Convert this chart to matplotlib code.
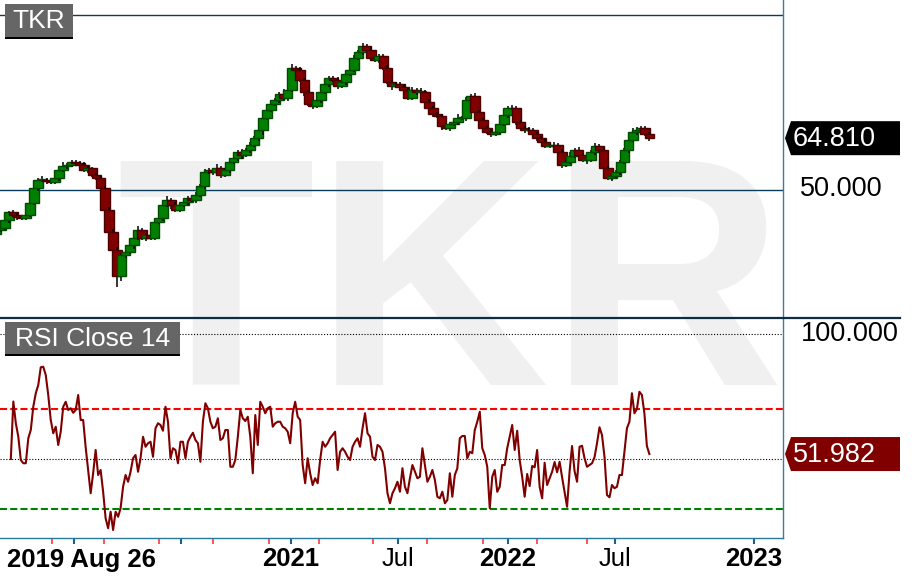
import numpy as np
import pandas as pd
import matplotlib
matplotlib.use("Agg")
import matplotlib.pyplot as plt
from matplotlib.patches import Polygon, Rectangle
from matplotlib.lines import Line2D
import matplotlib.transforms as mtrans

plt.rcParams['font.family'] = ['Liberation Sans', 'DejaVu Sans']

# ---------------- data ----------------
start_date = '2019-08-26'
ticker = 'TKR'
rsi_title = 'RSI Close 14'

# weekly closes
close = [38.5, 39.1, 41.4, 43.7, 42.9, 42.3, 42.0, 42.9, 46.3, 50.6,
         52.9, 52.9, 52.6, 52.3, 53.4, 55.7, 56.9, 57.1, 58.0, 57.7,
         57.1, 55.7, 56.3, 54.3, 53.4, 50.6, 44.3, 38.0, 33.0, 25.5,
         31.4, 32.3, 34.3, 36.3, 38.6, 36.3, 37.1, 36.3, 40.9, 42.0,
         45.7, 47.1, 45.7, 44.3, 45.7, 46.6, 47.7, 47.1, 48.6, 51.1,
         55.1, 55.7, 55.1, 56.3, 54.3, 55.7, 58.0, 59.1, 60.9, 60.0,
         61.4, 62.9, 64.8, 67.1, 70.6, 72.9, 74.6, 75.7, 77.4, 76.3,
         78.6, 84.9, 84.3, 81.4, 78.0, 74.6, 74.0, 75.7, 78.0, 80.3,
         82.0, 81.4, 79.7, 80.9, 83.1, 84.3, 87.7, 89.4, 91.1, 90.0,
         87.7, 87.1, 88.3, 84.9, 80.9, 79.7, 80.3, 79.4, 78.6, 76.3,
         78.6, 78.0, 78.0, 75.1, 73.4, 71.7, 71.1, 68.3, 67.7, 68.9,
         69.4, 70.6, 70.6, 75.7, 76.9, 72.3, 70.0, 67.7, 66.6, 66.0,
         66.6, 68.9, 71.4, 73.4, 73.4, 69.4, 67.7, 67.1, 67.1, 66.0,
         64.9, 63.8, 62.6, 62.6, 62.9, 60.9, 57.1, 58.0, 59.7, 61.4,
         60.0, 58.6, 58.6, 60.9, 62.6, 61.4, 56.3, 53.4, 54.0, 55.1,
         58.0, 61.4, 64.3, 66.6, 67.1, 67.7, 66.0, 64.81]
first_open = 37.5

up_wick = [0.6, 0.5, 0.8, 0.4, 0.7, 0.5, 0.6, 0.9, 0.5, 0.7,
           0.6, 1.0, 0.5, 0.4, 0.8, 0.6, 1.2, 0.5, 0.7, 0.6,
           0.5, 0.8, 0.6, 0.4, 0.7, 0.5, 0.6, 0.8, 0.9, 0.7,
           0.6, 1.1, 0.8, 0.5, 1.0, 0.6, 0.7, 0.5, 0.9, 0.6,
           0.7, 1.2, 0.5, 0.8, 0.6, 0.4, 0.7, 0.6, 0.9, 0.5,
           0.8, 0.6, 0.5, 1.0, 0.7, 0.5, 0.6, 0.8, 0.5, 0.7,
           0.6, 0.9, 0.5, 0.7, 0.6, 0.8, 0.5, 0.7, 0.6, 1.4,
           0.5, 1.0, 0.6, 0.8, 0.5, 0.7, 0.6, 0.9, 0.5, 1.6,
           0.7, 0.6, 0.8, 0.5, 0.7, 0.6, 0.9, 0.5, 1.0, 0.6,
           0.8, 0.5, 0.7, 0.6, 0.9, 0.5, 0.7, 0.6, 0.8, 0.5,
           0.7, 0.6, 1.1, 0.5, 0.8, 0.6, 0.7, 0.5, 0.9, 0.6,
           0.7, 1.0, 0.5, 0.8, 0.6, 0.9, 0.5, 0.7, 0.6, 0.8,
           0.5, 0.7, 1.2, 0.6, 0.8, 0.5, 0.7, 0.6, 0.9, 0.5,
           0.7, 0.6, 0.8, 0.5, 0.7, 0.6, 0.9, 0.5, 1.1, 0.6,
           0.8, 0.5, 0.7, 0.6, 0.9, 0.5, 0.7, 0.6, 0.8, 0.5,
           0.7, 0.6, 0.8, 1.2, 0.9, 0.6, 0.7, 0.5]
dn_wick = [0.7, 0.5, 0.6, 0.9, 0.5, 0.8, 0.6, 0.5, 0.7, 0.6,
           0.8, 0.5, 0.9, 0.6, 0.5, 0.7, 0.6, 0.8, 0.5, 0.7,
           0.6, 0.5, 0.9, 0.7, 0.6, 0.8, 1.0, 0.9, 1.2, 3.2,
           1.5, 0.8, 0.6, 1.1, 0.7, 0.5, 0.9, 0.6, 0.7, 0.5,
           0.8, 0.6, 1.0, 0.5, 0.7, 0.6, 0.8, 0.5, 0.9, 0.6,
           0.7, 0.5, 0.8, 0.6, 0.9, 0.5, 0.7, 0.6, 0.8, 1.2,
           0.5, 0.7, 0.6, 0.9, 1.3, 0.5, 0.7, 0.6, 0.8, 0.5,
           0.9, 0.6, 0.7, 0.5, 1.0, 0.6, 0.8, 0.5, 0.7, 0.6,
           0.9, 0.5, 0.7, 0.6, 0.8, 0.5, 0.7, 0.6, 0.9, 0.5,
           0.7, 0.6, 0.8, 0.5, 0.7, 1.0, 0.6, 0.8, 0.5, 0.7,
           0.6, 0.9, 0.5, 0.7, 0.6, 0.8, 0.5, 1.1, 0.6, 0.7,
           0.5, 0.8, 0.6, 0.9, 0.5, 0.7, 0.6, 1.0, 0.5, 0.8,
           0.6, 0.7, 0.5, 0.9, 0.6, 0.8, 0.5, 0.7, 0.6, 1.0,
           0.8, 0.5, 0.7, 0.6, 0.9, 0.5, 0.8, 0.6, 0.7, 0.5,
           0.9, 0.6, 1.2, 0.7, 1.0, 0.6, 0.8, 0.5, 0.7, 0.6,
           0.8, 0.5, 0.7, 0.6, 0.9, 0.5, 0.6, 0.7]

# RSI(14) sampled every 3 business days starting 17 business days after start
rsi_first_bday = 17
rsi_step = 3
rsi = [50.0, 73.0, 64.3, 58.9, 49.6, 48.3, 48.3, 58.3, 61.6, 70.9,
       76.3, 79.6, 86.7, 86.9, 83.6, 75.6, 65.6, 60.3, 62.9, 55.6,
       60.9, 70.9, 72.9, 69.6, 70.3, 68.5, 69.6, 75.6, 65.6, 65.6,
       54.7, 45.6, 36.3, 44.3, 53.6, 43.6, 45.6, 36.9, 26.3, 22.3,
       28.9, 21.6, 28.9, 26.9, 30.3, 38.9, 43.6, 40.9, 44.9, 50.3,
       51.6, 44.9, 50.3, 58.9, 54.9, 56.3, 56.9, 50.9, 62.3, 64.3,
       63.6, 61.3, 70.9, 64.9, 50.3, 54.3, 53.6, 48.3, 56.9, 56.9,
       50.3, 56.9, 58.9, 60.5, 57.6, 56.3, 48.9, 64.9, 72.3, 70.3,
       64.9, 62.3, 62.9, 66.3, 57.6, 58.3, 61.6, 61.6, 46.9, 46.9,
       49.6, 58.9, 69.6, 66.3, 65.2, 66.9, 58.9, 44.3, 67.6, 55.6,
       72.9, 70.9, 68.3, 70.3, 70.9, 62.9, 64.3, 64.9, 64.9, 62.9,
       62.3, 60.9, 56.3, 68.3, 72.9, 66.9, 65.6, 47.6, 40.3, 50.3,
       44.3, 39.6, 42.3, 40.3, 49.6, 56.9, 54.9, 56.3, 58.3, 59.6,
       60.9, 45.6, 52.9, 54.3, 52.9, 50.9, 49.6, 54.9, 56.9, 58.3,
       54.9, 62.3, 68.3, 60.3, 58.9, 50.9, 49.6, 55.6, 54.9, 52.9,
       46.3, 36.3, 32.3, 36.3, 38.3, 40.9, 36.9, 46.3, 38.9, 36.3,
       42.3, 47.6, 44.9, 42.3, 42.9, 54.3, 47.6, 40.9, 42.9, 45.6,
       41.6, 34.9, 34.3, 36.9, 32.3, 33.6, 44.3, 34.9, 43.6, 46.3,
       58.3, 59.2, 59.2, 50.3, 52.9, 52.3, 61.6, 64.9, 68.9, 54.3,
       51.6, 46.9, 30.3, 42.9, 45.6, 36.9, 38.9, 47.6, 47.6, 54.3,
       58.9, 63.6, 53.6, 61.3, 49.6, 42.9, 34.9, 44.0, 39.2, 47.2,
       46.7, 53.6, 38.9, 34.3, 48.5, 39.6, 42.3, 44.9, 48.8, 44.7,
       48.9, 42.7, 36.9, 30.9, 44.9, 55.2, 45.2, 40.9, 54.9, 55.3,
       50.3, 46.9, 47.6, 48.3, 50.7, 56.3, 62.7, 59.6, 50.9, 35.6,
       34.7, 39.6, 38.3, 38.9, 43.6, 43.6, 52.9, 62.3, 64.9, 76.3,
       68.3, 70.0, 76.9, 75.6, 68.3, 55.2, 51.982]

price_levels = [100.0, 50.0]
tick_dates = ['2020-01-02', '2020-07-01', '2021-01-01', '2021-07-01',
              '2022-01-03', '2022-07-01', '2023-01-02']
tick_labels = ['', '', '2021', 'Jul', '2022', 'Jul', '2023']
tick_bold = [True, False, True, False, True, False, True]
event_dates = ['2019-11-27', '2020-02-21', '2020-05-25', '2020-08-24',
               '2020-11-25', '2021-02-18', '2021-05-20', '2021-08-19',
               '2021-11-22', '2022-02-21', '2022-05-16']
first_label = '2019 Aug 26'

# ---------------- helpers ----------------
W, H = 920, 581
def fx(px): return px / W
def fy(py): return 1 - py / H

dates = pd.date_range(start_date, periods=len(close), freq='W-MON')
start_np = np.datetime64(start_date, 'D')
last_np = dates[-1].to_datetime64().astype('datetime64[D]')
last_idx = np.busday_count(start_np, last_np)

def date_to_x(d):
    d = np.datetime64(d, 'D')
    if d <= last_np:
        return float(np.busday_count(start_np, d))
    return float(last_idx + (d - last_np).astype(int))

cx = np.array([date_to_x(d.to_datetime64()) for d in dates])
close_a = np.array(close)
open_a = np.concatenate([[first_open], close_a[:-1]])
high_a = np.maximum(open_a, close_a) + np.array(up_wick)
low_a = np.minimum(open_a, close_a) - np.array(dn_wick)

# ---------------- figure ----------------
fig = plt.figure(figsize=(W / 100, H / 100), dpi=100)
fig.patch.set_facecolor('white')

# watermark
fig.text(fx(450), fy(385), ticker, fontsize=234, fontweight='bold',
         color='#f0f0f0', ha='center', va='baseline', zorder=-10)

XL = (3.97, 945.7)
ax1 = fig.add_axes([0, fy(318), fx(783), 318 / H])
ax2 = fig.add_axes([0, fy(538), fx(783), (538 - 318) / H])
for ax in (ax1, ax2):
    ax.set_facecolor('none')
    ax.set_xlim(*XL)
    for s in ('left', 'top'):
        ax.spines[s].set_visible(False)
    ax.spines['right'].set_color('#3a7ca5')
    ax.spines['right'].set_linewidth(1.0)
    ax.tick_params(left=False, labelleft=False)
ax1.spines['bottom'].set_visible(False)
ax1.tick_params(bottom=False, labelbottom=False)
ax1.set_ylim(13.43, 104.29)
ax2.set_ylim(18.4, 106.4)

# price grid lines
for lv in price_levels:
    ax1.axhline(lv, color='#0b3b5b', lw=1.0, zorder=1)

# candles
body_w = 11.5
for i in range(len(close_a)):
    up = close_a[i] >= open_a[i]
    fc = '#008000' if up else '#800000'
    ec = '#004a00' if up else '#4a0000'
    z = 2 + i * 0.01
    ax1.vlines(cx[i], low_a[i], high_a[i], color='black', lw=1.1, zorder=z)
    b0 = min(open_a[i], close_a[i])
    h = max(abs(close_a[i] - open_a[i]), 0.15)
    ax1.bar(cx[i], h, bottom=b0, width=body_w, color=fc, edgecolor=ec,
            linewidth=1.0, zorder=z + 0.005)

# RSI
rx = rsi_first_bday + rsi_step * np.arange(len(rsi))
ax2.axhline(100, color='black', lw=0.8, ls=(0, (1, 1.6)), zorder=1)
ax2.axhline(50, color='black', lw=0.8, ls=(0, (1, 1.6)), zorder=1)
ax2.axhline(70, color='#ff0000', lw=1.5, ls=(0, (3.4, 1.5)), zorder=1)
ax2.axhline(30, color='#008000', lw=1.5, ls=(0, (3.4, 1.5)), zorder=1)
ax2.plot(rx, rsi, color='#800000', lw=1.5, zorder=3, solid_joinstyle='round')

# x axis
ax2.spines['bottom'].set_color('#2a7aa0')
ax2.spines['bottom'].set_linewidth(1.0)
tx = [date_to_x(d) for d in tick_dates]
ax2.set_xticks(tx)
ax2.set_xticklabels([''] * len(tx))
ax2.tick_params(axis='x', which='major', length=4, width=1.5, color='#1f5f8a')
ex = [date_to_x(d) for d in event_dates]
ax2.set_xticks(ex, minor=True)
ax2.tick_params(axis='x', which='minor', length=4, width=1.5, color='#ff5a5a')

blend = mtrans.blended_transform_factory(ax2.transData, fig.transFigure)
for x, lab, b in zip(tx, tick_labels, tick_bold):
    if lab:
        fig.text(x, fy(566.5), lab, transform=blend, ha='center', va='baseline',
                 fontsize=18.5, fontweight='bold' if b else 'normal', color='black')
fig.text(fx(7), fy(566.5), first_label, ha='left', va='baseline',
         fontsize=18.5, fontweight='bold', color='black')

# separator
fig.add_artist(Line2D([0, fx(900)], [fy(318), fy(318)], color='#0d2d40', lw=1.6,
                      transform=fig.transFigure, zorder=5))

# panel title boxes
def title_box(x0, y0, x1, y1, text):
    fig.add_artist(Rectangle((fx(x0), fy(y1 + 2)), fx(x1) - fx(x0), 2 / H,
                             transform=fig.transFigure, facecolor='black', edgecolor='none', zorder=6))
    fig.add_artist(Rectangle((fx(x0), fy(y1)), fx(x1) - fx(x0), (y1 - y0) / H,
                             transform=fig.transFigure, facecolor='#666666', edgecolor='none', zorder=6))
    fig.text(fx((x0 + x1) / 2), fy((y0 + y1) / 2 + 1), text, color='white', fontsize=19,
             ha='center', va='center', zorder=7)

title_box(5, 4, 73, 37, ticker)
title_box(5, 322, 180, 354, rsi_title)

# right-hand labels
def data_py(ax, v):
    return H - ax.transData.transform((XL[0], v))[1]

def tag(ax, v, text, color):
    py = data_py(ax, v)
    pts = [(785, py), (791, py - 17), (900, py - 17), (900, py + 17), (791, py + 17)]
    fig.add_artist(Polygon([(fx(a), fy(b)) for a, b in pts], closed=True,
                           transform=fig.transFigure, facecolor=color, edgecolor='none', zorder=6))
    fig.text(fx(793), fy(py + 1), text, color='white', fontsize=19.5, ha='left', va='center', zorder=7)

tag(ax1, close_a[-1], f'{close_a[-1]:.3f}', 'black')
tag(ax2, rsi[-1], f'{rsi[-1]:.3f}', '#800000')
fig.text(fx(800), fy(data_py(ax1, 50.0) - 1), f'{50.0:.3f}', color='black',
         fontsize=19.5, ha='left', va='center')
fig.text(fx(801), fy(data_py(ax2, 100.0)), f'{100.0:.3f}', color='black',
         fontsize=19.5, ha='left', va='center')

fig.savefig('out.png', dpi=100, facecolor='white')
